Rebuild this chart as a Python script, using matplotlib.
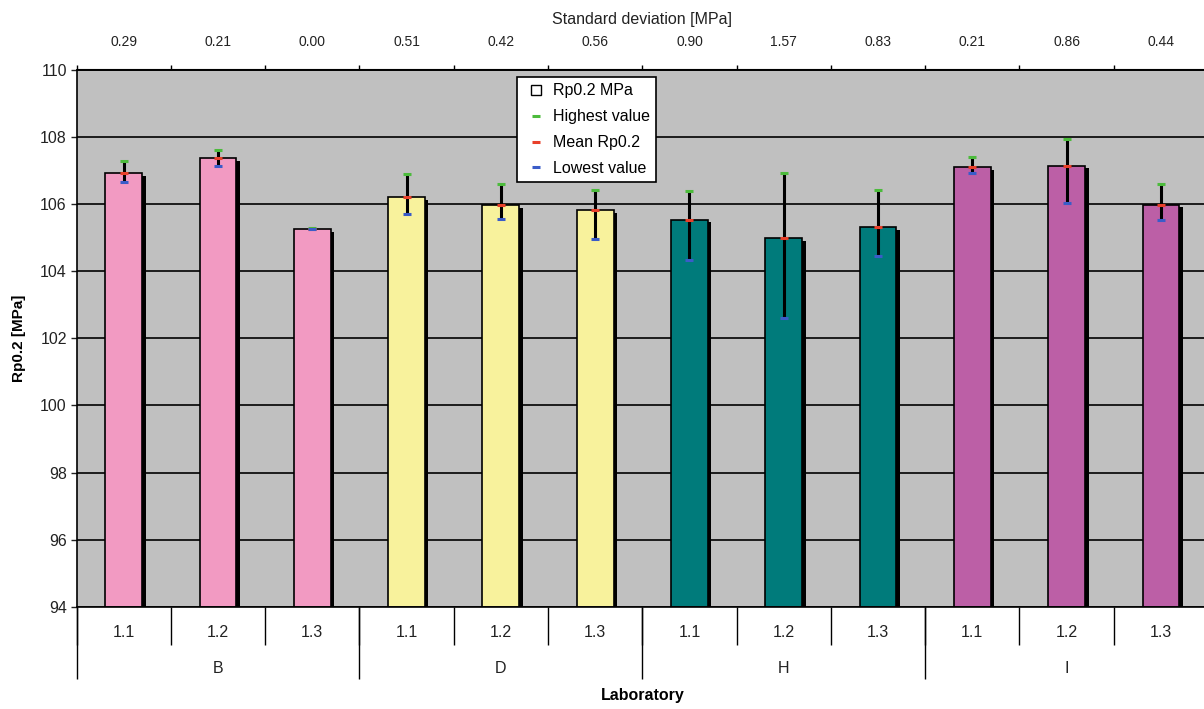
import matplotlib
matplotlib.use("Agg")
import matplotlib.pyplot as plt
import matplotlib.patheffects as pe
from matplotlib.lines import Line2D
from matplotlib.legend_handler import HandlerLine2D
import numpy as np

plt.rcParams['font.family'] = ['Liberation Sans', 'DejaVu Sans']

# data
labs = ['B', 'D', 'H', 'I']
subs = ['1.1', '1.2', '1.3'] * 4
means = [106.92, 107.37, 105.25, 106.19, 105.96, 105.81, 105.53, 104.98, 105.31, 107.09, 107.14, 105.98]
highs = [107.27, 107.59, 105.27, 106.89, 106.60, 106.40, 106.39, 106.92, 106.40, 107.40, 107.94, 106.59]
lows = [106.64, 107.12, 105.24, 105.71, 105.55, 104.96, 104.34, 102.60, 104.44, 106.92, 106.03, 105.51]
sd = ['0.29', '0.21', '0.00', '0.51', '0.42', '0.56', '0.90', '1.57', '0.83', '0.21', '0.86', '0.44']
lab_colors = ['#F29AC2', '#F8F29C', '#007B7B', '#BC5FA6']

base = 94
x = np.arange(len(means))
colors = [c for c in lab_colors for _ in range(3)]


class RightMarker(HandlerLine2D):
    # legend marker sits at the right end of the handle, next to the text
    def get_xdata(self, legend, xdescent, ydescent, width, height, fontsize):
        xdata, _ = super().get_xdata(legend, xdescent, ydescent, width, height, fontsize)
        return xdata, np.array([width - xdescent - 2.5])


W, H = 1204, 709
fig = plt.figure(figsize=(W / 100, H / 100), dpi=100)
ax = fig.add_axes([76.5 / W, (H - 607) / H, 1131.6 / W, (607 - 69.5) / H])
ax.set_facecolor('#C0C0C0')
ax.set_xlim(-0.5, len(x) - 0.5)
ax.set_ylim(base, 110)
ax.set_yticks(np.arange(94, 111, 2))
ax.yaxis.grid(True, color='black', lw=1.2)
ax.set_axisbelow(True)
for s in ax.spines.values():
    s.set_color('black')
    s.set_linewidth(1.2)

ax.bar(x, np.array(means) - base, bottom=base, width=0.39, color=colors,
       edgecolor='black', lw=1.2, zorder=2,
       path_effects=[pe.SimplePatchShadow(offset=(2.5, -2), shadow_rgbFace='black', alpha=1), pe.Normal()])

ax.vlines(x, lows, highs, color='black', lw=2.2, zorder=3)
ax.plot(x, highs, ls='none', marker='_', ms=6, mew=2.2, color='#4CBB3C', zorder=4)
ax.plot(x, means, ls='none', marker='_', ms=6, mew=2.2, color='#E8402A', zorder=4)
ax.plot(x, lows, ls='none', marker='_', ms=6, mew=2.2, color='#3A5CC8', zorder=5)

# y axis
ax.tick_params(axis='y', labelsize=11.5, length=4, width=1, pad=3, colors='#222222')
ax.set_ylabel('Rp0.2 [MPa]', fontsize=11, fontweight='bold', labelpad=10)

# bottom: sub-category labels and short separators
bounds = np.arange(-0.5, len(x), 1.0)
ax.set_xticks(x, labels=subs)
ax.set_xticks(bounds, minor=True)
ax.tick_params(axis='x', which='major', length=0, pad=13, labelsize=11.5, labelcolor='#222222')
ax.tick_params(axis='x', which='minor', length=27, width=1, direction='out')

# bottom: laboratory groups
grp = ax.secondary_xaxis('bottom')
grp.spines['bottom'].set_visible(False)
grp.set_xticks(bounds[::3], labels=[''] * len(bounds[::3]))
grp.set_xticks(x[1::3], labels=labs, minor=True)
grp.tick_params(which='major', length=52, width=1)
grp.tick_params(which='minor', length=0, pad=39, labelsize=11.5, labelcolor='#222222')
grp.set_xlabel('Laboratory', fontsize=11.5, fontweight='bold', labelpad=3)

# top: standard deviation
top = ax.secondary_xaxis('top')
top.set_xticks(x, labels=sd)
top.set_xticks(bounds, minor=True)
top.tick_params(which='major', length=0, pad=15, labelsize=10, labelcolor='#222222')
top.tick_params(which='minor', length=3, width=1)
top.set_xlabel('Standard deviation [MPa]', fontsize=11.5, labelpad=8, color='#222222')

handles = [
    Line2D([], [], ls='none', marker='s', ms=7, mfc='white', mec='black', mew=1),
    Line2D([], [], ls='none', marker='_', ms=6, mew=2.2, color='#4CBB3C'),
    Line2D([], [], ls='none', marker='_', ms=6, mew=2.2, color='#E8402A'),
    Line2D([], [], ls='none', marker='_', ms=6, mew=2.2, color='#3A5CC8'),
]
names = ['Rp0.2 MPa', 'Highest value', 'Mean Rp0.2', 'Lowest value']
leg = ax.legend(handles, names, loc='upper left', bbox_to_anchor=((517 - 76.5) / 1131.6, (607 - 77) / 537.5),
                frameon=True, fancybox=False, framealpha=1, edgecolor='black', fontsize=11.5,
                handlelength=1.6, handletextpad=0.25, borderpad=0.4, labelspacing=0.68, borderaxespad=0,
                handler_map={Line2D: RightMarker()})
leg.get_frame().set_linewidth(1.2)

fig.savefig('out.png', dpi=100)
